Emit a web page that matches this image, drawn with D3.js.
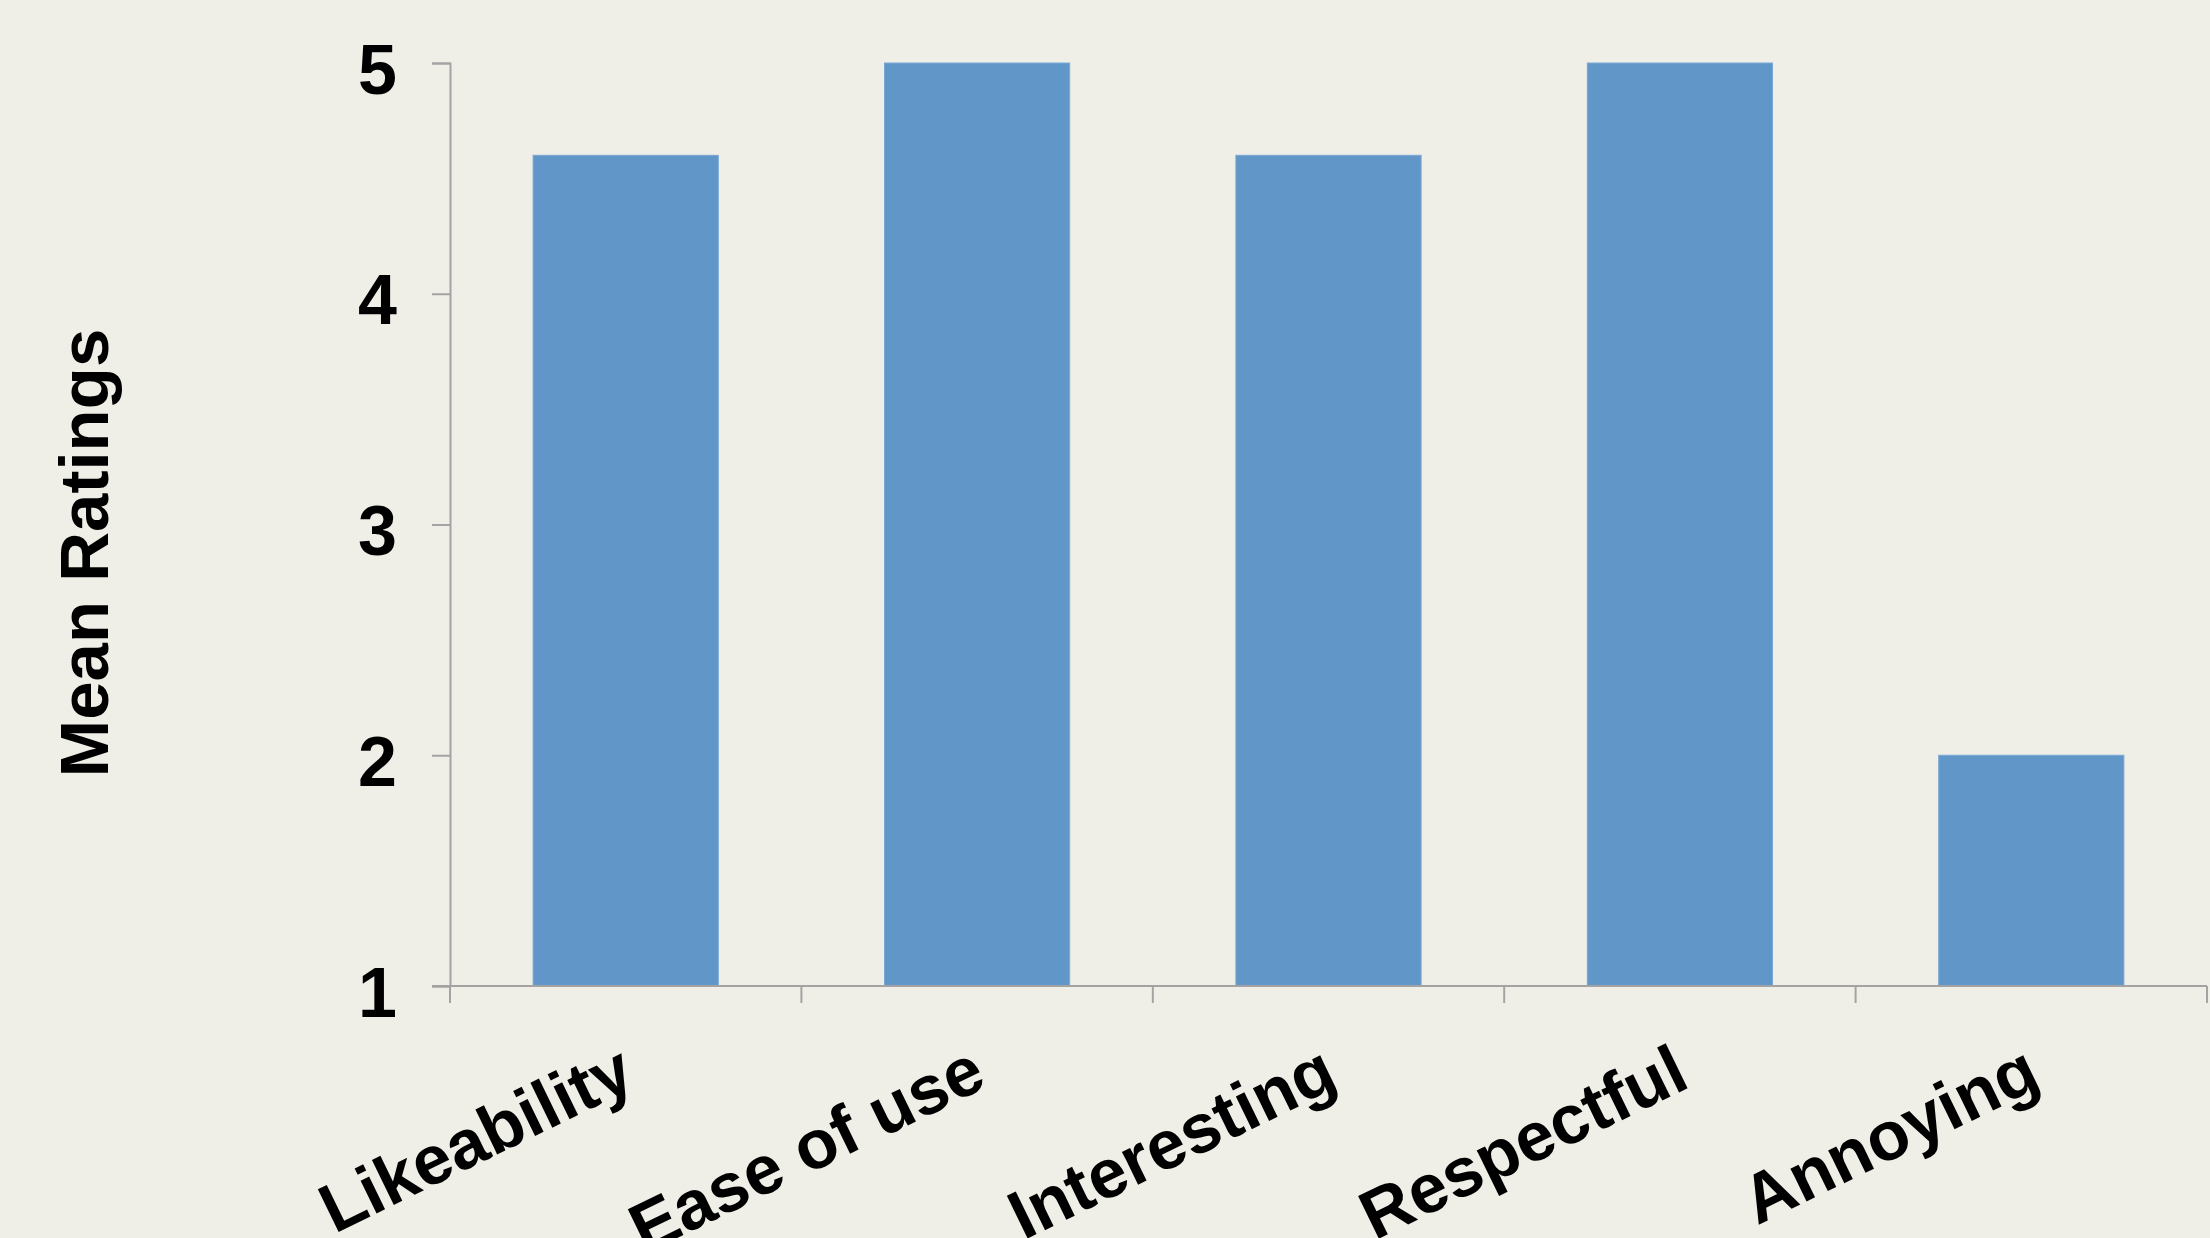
<!DOCTYPE html>
<html>
<head>
<meta charset="utf-8">
<script src="https://cdn.jsdelivr.net/npm/d3@7"></script>
<style>
  html, body { margin: 0; padding: 0; background: #f0efe7; }
  svg { display: block; }
  text { font-family: "Liberation Sans", Arial, Helvetica, sans-serif; font-weight: bold; fill: #000; }
</style>
</head>
<body>
<svg id="chart" width="2210" height="1238"></svg>
<script>
const categories = ["Likeability", "Ease of use", "Interesting", "Respectful", "Annoying"];
const meanRatings = [4.6, 5.0, 4.6, 5.0, 2.0];
const yTicks = [1, 2, 3, 4, 5];
const yTitle = "Mean Ratings";

const W = 2210, H = 1238;
const plot = { left: 450, right: 2207, top: 63, bottom: 986 };
const axisColor = "#a3a3a3";
const barColor = "#6196c9";

const svg = d3.select("#chart");
svg.append("rect").attr("width", W).attr("height", H).attr("fill", "#f0efe7");

const x = d3.scaleBand().domain(categories).range([plot.left, plot.right]).paddingInner(0.473).paddingOuter(0.2365);
const xb = d3.scaleBand().domain(categories).range([plot.left, plot.right]).padding(0);
const y = d3.scaleLinear().domain([1, 5]).range([plot.bottom, plot.top]);

// bars
svg.append("g").selectAll("rect").data(categories).join("rect")
  .attr("x", d => x(d))
  .attr("width", x.bandwidth())
  .attr("y", (d, i) => y(meanRatings[i]))
  .attr("height", (d, i) => y(1) - y(meanRatings[i]))
  .attr("fill", barColor)
  .attr("stroke", "#7aa8d6")
  .attr("stroke-width", 1);

// y axis
const yAxis = d3.axisLeft(y).tickValues(yTicks).tickFormat(d3.format("d")).tickSize(18).tickPadding(35);
const gy = svg.append("g").attr("transform", `translate(${plot.left},0)`).call(yAxis);
gy.select(".domain").attr("stroke", axisColor).attr("stroke-width", 2);
gy.selectAll(".tick line").attr("stroke", axisColor).attr("stroke-width", 2);
gy.selectAll(".tick text")
  .attr("font-size", 70)
  .attr("dy", "0.43em")
  .attr("fill", "#000");

// x axis line and boundary ticks
const gx = svg.append("g");
gx.append("line")
  .attr("x1", plot.left - 18).attr("x2", plot.right)
  .attr("y1", y(1)).attr("y2", y(1))
  .attr("stroke", axisColor).attr("stroke-width", 2);
const bounds = categories.map(c => xb(c)).concat([xb(categories[categories.length - 1]) + xb.bandwidth()]);
gx.selectAll("line.tk").data(bounds).join("line")
  .attr("class", "tk")
  .attr("x1", d => d).attr("x2", d => d)
  .attr("y1", y(1)).attr("y2", y(1) + 17)
  .attr("stroke", axisColor).attr("stroke-width", 2);

// x labels rotated
gx.selectAll("text.xl").data(categories).join("text")
  .attr("class", "xl")
  .attr("font-size", 69)
  .attr("text-anchor", "end")
  .attr("transform", d => `translate(${xb(d) + xb.bandwidth() / 2 + 12},${y(1) + 100}) rotate(-26)`)
  .text(d => d);

// y title
svg.append("text")
  .attr("font-size", 69)
  .attr("text-anchor", "middle")
  .attr("transform", `translate(108,553) rotate(-90)`)
  .text(yTitle);
</script>
</body>
</html>
